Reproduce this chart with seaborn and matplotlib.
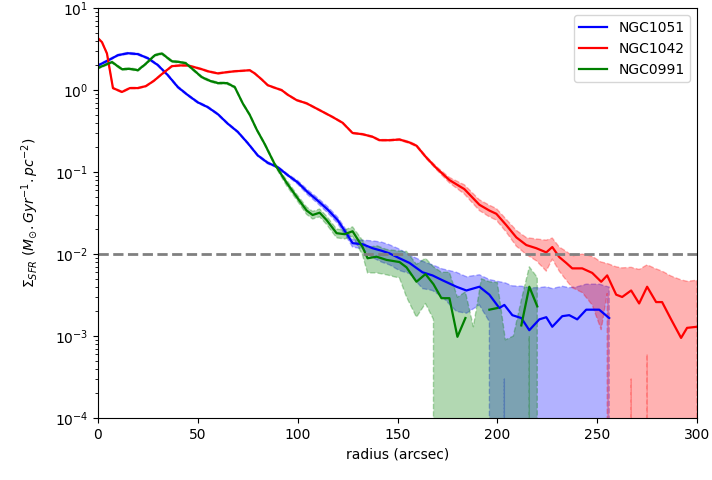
import numpy as np
import pandas as pd
import matplotlib
matplotlib.use("Agg")
import matplotlib.pyplot as plt
import seaborn as sns

# ---------------- data ----------------
# NGC1051 (blue)
r_b = [0, 5, 10, 15, 20, 25, 30, 35, 40, 45,
       50, 55, 60, 65, 70, 75, 80, 85, 90, 95,
       100, 105, 110, 115, 120, 125,
       127.5, 132.5, 137.5, 142, 146, 151, 156,
       162.5, 167.5, 172.5, 179.5, 184.5,
       191, 196, 201, 203.5, 207.5,
       212, 216, 221, 224.5, 227.5,
       232.5, 236, 240, 244.5, 251, 256]
sfr_b = [2.0, 2.3, 2.67, 2.82, 2.75, 2.45, 2.02, 1.52, 1.09, 0.87,
         0.71, 0.62, 0.51, 0.39, 0.31, 0.226, 0.16, 0.13, 0.115, 0.092,
         0.075, 0.057, 0.045, 0.035, 0.026, 0.017,
         0.0136, 0.0132, 0.0118, 0.0110, 0.0102, 0.0089, 0.0078,
         0.0060, 0.0055, 0.0048, 0.0040, 0.0036,
         0.0040, 0.0032, 0.0022, 0.0024, 0.0018,
         0.00166, 0.00118, 0.0016, 0.0017, 0.0013,
         0.00175, 0.0018, 0.0016, 0.0021, 0.0021, 0.00166]
err_b = [0.05, 0.06, 0.06, 0.07, 0.07, 0.06, 0.05, 0.04, 0.03, 0.02,
         0.018, 0.015, 0.012, 0.009, 0.007, 0.006, 0.004, 0.004, 0.003, 0.003,
         0.004, 0.004, 0.0035, 0.003, 0.0023, 0.0016,
         0.0014, 0.0016, 0.0027, 0.0030, 0.0028, 0.0026, 0.0020,
         0.0022, 0.0019, 0.0018, 0.0020, 0.0017,
         0.0016, 0.0017, 0.0024, 0.0021, 0.0023,
         0.0024, 0.0027, 0.0023, 0.0023, 0.0025,
         0.0023, 0.0021, 0.0024, 0.0022, 0.0022, 0.0023]

# NGC1042 (red)
r_r = [0, 2, 4.5, 7.5, 12, 16, 20, 24, 28, 32,
       37, 41, 45, 48.5, 52, 55, 60, 64, 68.5, 72,
       76, 78.5, 82, 85, 88, 92, 95, 99.5, 104.5, 111,
       117.5, 122.5, 127.5, 132.5, 137.5, 141, 146, 151, 156, 159.5,
       164.5, 169.5, 176, 183.5, 191, 196, 199.5, 204.5, 209.5, 214.5,
       219.5, 224.5, 227.5, 231, 234.5, 237.5, 242.5, 247.5, 252, 255,
       259.5, 262.5, 267, 271, 275, 279.5, 282.5, 287, 292, 295,
       300]
sfr_r = [4.3, 3.85, 2.8, 1.06, 0.95, 1.06, 1.06, 1.12, 1.3, 1.57,
         1.96, 2.0, 2.0, 1.9, 1.8, 1.7, 1.6, 1.65, 1.7, 1.72,
         1.75, 1.6, 1.35, 1.15, 1.08, 1.0, 0.88, 0.755, 0.69, 0.57,
         0.47, 0.40, 0.30, 0.29, 0.27, 0.245, 0.245, 0.25, 0.23, 0.21,
         0.15, 0.112, 0.080, 0.062, 0.040, 0.034, 0.031, 0.0225, 0.016, 0.0129,
         0.0118, 0.0105, 0.0122, 0.0092, 0.0078, 0.0067, 0.0067, 0.0059, 0.0046, 0.0055,
         0.0032, 0.0030, 0.0036, 0.0025, 0.0040, 0.0026, 0.0026, 0.0016, 0.00095, 0.00126,
         0.0013]
err_r = [0.08, 0.07, 0.05, 0.02, 0.02, 0.02, 0.02, 0.02, 0.025, 0.03,
         0.04, 0.04, 0.04, 0.04, 0.035, 0.035, 0.03, 0.03, 0.03, 0.03,
         0.03, 0.03, 0.025, 0.02, 0.02, 0.02, 0.018, 0.015, 0.014, 0.011,
         0.009, 0.008, 0.006, 0.006, 0.006, 0.005, 0.005, 0.006, 0.006, 0.006,
         0.005, 0.005, 0.006, 0.008, 0.006, 0.0055, 0.005, 0.004, 0.0035, 0.003,
         0.0035, 0.0043, 0.0035, 0.0030, 0.0030, 0.0028, 0.0033, 0.0035, 0.0034, 0.0022,
         0.0038, 0.0038, 0.0033, 0.0040, 0.0034, 0.0040, 0.0036, 0.0038, 0.0039, 0.0034,
         0.0035]

# NGC0991 (green)
r_g = [0, 4, 7, 12, 16, 20, 24, 28.5, 32, 37,
       41, 44, 48, 52, 56, 60, 64.5, 68.5, 72.5, 76,
       79.5, 83.5, 88.5, 94.5, 100, 104.5, 107.5, 111, 114.5, 119.5,
       123.5, 127.5, 132.5, 135, 139.5, 144.5, 151, 154.5, 159.5, 164,
       168, 172, 176, 180, 184, 188, 192, 196, 200, 204,
       208, 212, 216, 220]
sfr_g = [1.86, 2.05, 2.2, 1.8, 1.82, 1.75, 2.1, 2.67, 2.8, 2.25,
         2.2, 2.13, 1.75, 1.44, 1.30, 1.22, 1.22, 1.09, 0.69, 0.50,
         0.33, 0.22, 0.125, 0.074, 0.048, 0.034, 0.030, 0.032, 0.026, 0.018,
         0.0175, 0.019, 0.0122, 0.0089, 0.0093, 0.0085, 0.0080, 0.0069, 0.0046, 0.0057,
         0.0043, 0.0029, 0.0029, 0.00098, 0.00166, -0.001, -0.0005, 0.0021, 0.0022, -0.001,
         -0.001, 0.00135, 0.0040, 0.0023]
err_g = [0.05, 0.06, 0.06, 0.05, 0.05, 0.05, 0.06, 0.07, 0.08, 0.06,
         0.06, 0.06, 0.05, 0.04, 0.035, 0.035, 0.035, 0.03, 0.02, 0.015,
         0.01, 0.007, 0.005, 0.006, 0.004, 0.0035, 0.0032, 0.0035, 0.003, 0.0022,
         0.0022, 0.0025, 0.0025, 0.0030, 0.0034, 0.0029, 0.0029, 0.0039, 0.0029, 0.0032,
         0.0027, 0.0031, 0.0031, 0.0020, 0.0018, 0.0023, 0.0055, 0.0025, 0.0023, 0.0019,
         0.0020, 0.0014, 0.0030, 0.0029]

galaxies = ["NGC1051", "NGC1042", "NGC0991"]
colors = ["b", "r", "g"]
threshold = 1e-2

series = [(r_b, sfr_b, err_b), (r_r, sfr_r, err_r), (r_g, sfr_g, err_g)]

# ---------------- figure ----------------
fig, ax = plt.subplots(figsize=(7.12, 4.8), dpi=100)
fig.subplots_adjust(left=0.1376, right=0.979, top=0.983, bottom=0.129)
ax.set_yscale("log")

for name, col, (r, sfr, err) in zip(galaxies, colors, series):
    r = np.asarray(r, float)
    sfr = np.asarray(sfr, float)
    err = np.asarray(err, float)
    pos = sfr > 0
    seg = np.cumsum(~pos)
    df = pd.DataFrame({"r": r[pos], "sfr": sfr[pos], "seg": seg[pos]})
    sns.lineplot(data=df, x="r", y="sfr", units="seg", estimator=None,
                 color=col, lw=1.6, label=name, ax=ax, sort=False)
    ax.fill_between(r, sfr - err, sfr + err, color=col, alpha=0.3,
                    linestyle="--")

ax.axhline(threshold, color="gray", ls="--", lw=2)

ax.set_xlim(0, 300)
ax.set_ylim(1e-4, 10)
ax.set_xlabel("radius (arcsec)")
ax.set_ylabel(r"$\Sigma_{SFR}$ ($M_{\odot}.Gyr^{-1}.pc^{-2}$)", labelpad=10)

handles, labels = ax.get_legend_handles_labels()
uniq = {}
for h, l in zip(handles, labels):
    if l not in uniq:
        uniq[l] = h
ax.legend(list(uniq.values()), list(uniq.keys()), loc="upper right")

fig.savefig("out.png", dpi=100)
